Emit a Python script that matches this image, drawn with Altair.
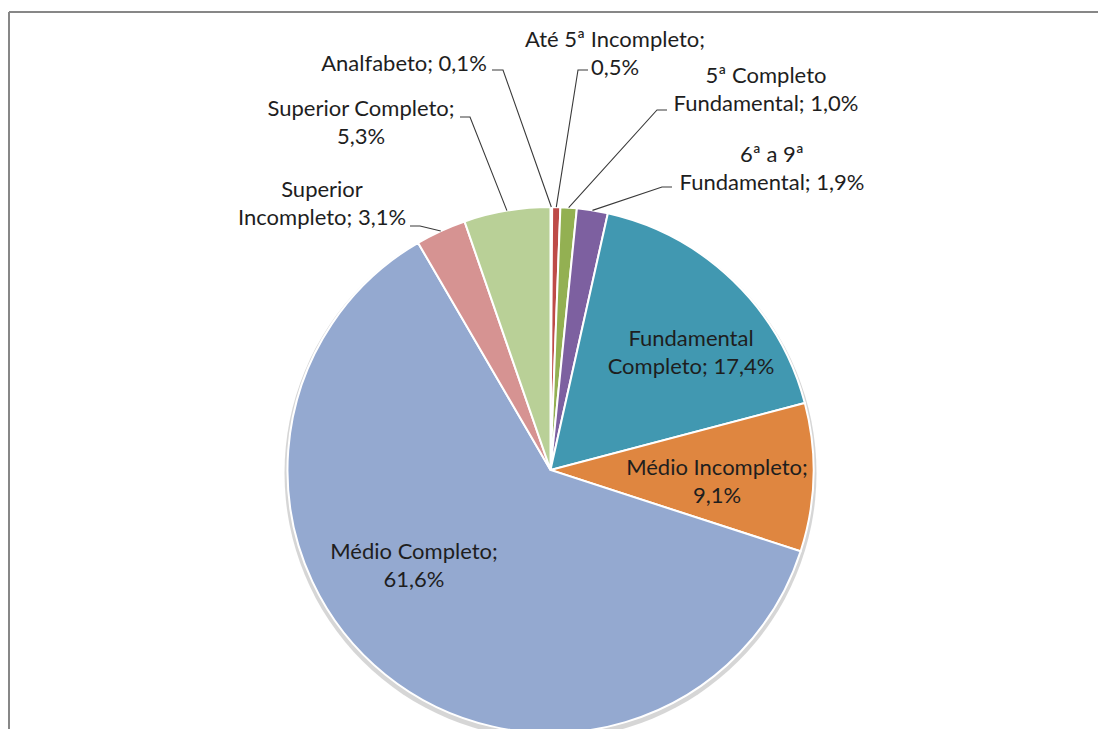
import math
import altair as alt
import pandas as pd

# ---- data ----
categories = ["Analfabeto", "Até 5ª Incompleto", "5ª Completo Fundamental",
              "6ª a 9ª Fundamental", "Fundamental Completo", "Médio Incompleto",
              "Médio Completo", "Superior Incompleto", "Superior Completo"]
shares = [0.1, 0.5, 1.0, 1.9, 17.4, 9.1, 61.6, 3.1, 5.3]
colors = ["#4A7EBB", "#BE4B48", "#93B052", "#7D60A0", "#4198B1",
          "#DF8640", "#94A9D0", "#D69392", "#B9D097"]
label_lines = [
    ["Analfabeto; 0,1%"],
    ["Até 5ª Incompleto;", "0,5%"],
    ["5ª Completo", "Fundamental; 1,0%"],
    ["6ª a 9ª", "Fundamental; 1,9%"],
    ["Fundamental", "Completo; 17,4%"],
    ["Médio Incompleto;", "9,1%"],
    ["Médio Completo;", "61,6%"],
    ["Superior", "Incompleto; 3,1%"],
    ["Superior Completo;", "5,3%"],
]

# ---- layout (page pixel coordinates) ----
W, H = 1090, 721
CX, CY, R = 550.5, 470, 263
label_pos = [(404, 64), (615, 40), (766, 76), (772, 155), (691, 339),
             (717, 468), (414, 552), (322, 190), (361, 109)]
LINE_H = 28
stubs = {0: ((492, 70), (503, 70)), 1: ((588, 70), (578, 70)),
         2: ((667, 110), (657, 110)), 3: ((672, 187), (662, 187)),
         7: ((410, 226), (420, 226)), 8: ((460, 117), (470, 117))}

pie = pd.DataFrame({"cat": categories, "share": shares, "idx": range(len(categories))})

text_rows = []
for i, (lines, (lx, ly)) in enumerate(zip(label_lines, label_pos)):
    for k, t in enumerate(lines):
        text_rows.append({"t": t, "x": lx, "y": ly + k * LINE_H})
text_df = pd.DataFrame(text_rows)

# leader lines: stub then to the outer middle of the slice
line_rows = []
cum = 0.0
for i, s in enumerate(shares):
    mid = (cum + s / 2) / 100.0 * 2 * math.pi
    cum += s
    if i in stubs:
        (x0, y0), (x1, y1) = stubs[i]
        ex, ey = CX + R * math.sin(mid), CY - R * math.cos(mid)
        for o, (px, py) in enumerate([(x0, y0), (x1, y1), (ex, ey)]):
            line_rows.append({"g": i, "o": o, "x": px, "y": py})
line_df = pd.DataFrame(line_rows)

xs = alt.Scale(domain=[8, 8 + W], range=[0, W])
ys = alt.Scale(domain=[8, 8 + H], range=[0, H])

shadow = alt.Chart(pd.DataFrame({"a": [1]})).mark_arc(
    theta=0, theta2=2 * math.pi, radius=R + 3, color="#b5b5b5", opacity=0.55
).encode(x=alt.value(CX - 8), y=alt.value(CY - 8 + 3))

arcs = alt.Chart(pie).mark_arc(radius=R, stroke="white", strokeWidth=2).encode(
    theta=alt.Theta("share:Q", stack=True),
    order=alt.Order("idx:Q"),
    color=alt.Color("cat:N", scale=alt.Scale(domain=categories, range=colors), legend=None),
    x=alt.value(CX - 8), y=alt.value(CY - 8),
)

leaders = alt.Chart(line_df).mark_line(color="#3a3a3a", strokeWidth=1.1).encode(
    x=alt.X("x:Q", scale=xs, axis=None),
    y=alt.Y("y:Q", scale=ys, axis=None),
    detail="g:N", order="o:Q",
)

texts = alt.Chart(text_df).mark_text(
    font="Lato", fontSize=22, color="#1e1e1e", align="center", baseline="middle"
).encode(
    x=alt.X("x:Q", scale=xs, axis=None),
    y=alt.Y("y:Q", scale=ys, axis=None),
    text="t:N",
)

frame_df = pd.DataFrame({"x": [9, 9], "y": [12, 12], "x2": [8 + W, 9], "y2": [12, 8 + H]})
frame = alt.Chart(frame_df).mark_rule(color="#878787", strokeWidth=2).encode(
    x=alt.X("x:Q", scale=xs, axis=None), y=alt.Y("y:Q", scale=ys, axis=None),
    x2="x2:Q", y2="y2:Q",
)

chart = alt.layer(frame, shadow, arcs, leaders, texts).properties(
    width=W, height=H, padding=0, background="white",
    autosize=alt.AutoSizeParams(type="none"),
).configure_view(stroke="transparent", strokeWidth=0)

chart.save("out.html", embed_options={"renderer": "svg", "actions": False})
